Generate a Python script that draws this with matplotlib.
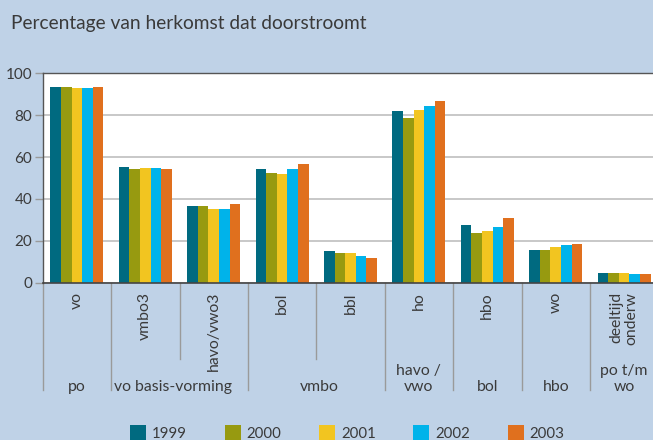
import matplotlib
matplotlib.use("Agg")
import matplotlib.pyplot as plt
import numpy as np

plt.rcParams['font.family'] = ['Lato', 'DejaVu Sans']

# ---- data ----
categories = ["vo", "vmbo3", "havo/vwo3", "bol", "bbl", "ho", "hbo", "wo", "deeltijd\nonderw"]
years = ["1999", "2000", "2001", "2002", "2003"]
v1999 = [93.5, 55.3, 36.8, 54.3, 15.1, 82.0, 27.5, 15.6, 4.6]
v2000 = [93.5, 54.3, 36.8, 52.4, 14.2, 78.7, 23.7, 15.6, 4.6]
v2001 = [92.8, 54.8, 35.2, 51.9, 14.2, 82.5, 24.7, 17.0, 4.6]
v2002 = [92.8, 54.8, 35.2, 54.3, 12.7, 84.4, 26.6, 18.0, 4.1]
v2003 = [93.5, 54.3, 37.6, 56.7, 11.8, 86.8, 30.9, 18.5, 4.1]
groups = ["po", "vo basis-vorming", "vmbo", "havo /\nvwo", "bol", "hbo", "po t/m\nwo"]
group_spans = [(0, 0), (1, 2), (3, 4), (5, 5), (6, 6), (7, 7), (8, 8)]
yticks = [0, 20, 40, 60, 80, 100]
title = "Percentage van herkomst dat doorstroomt"

series = [v1999, v2000, v2001, v2002, v2003]
colors = ["#006A80", "#979A10", "#F2C520", "#00B3EA", "#E0701E"]

BG = "#BFD2E7"
TXT = "#3A3A3A"
W, H = 653, 440
fig = plt.figure(figsize=(W / 100, H / 100), dpi=100, facecolor=BG)

ax_left, ax_top, ax_bottom = 42.7, 73.3, 282.7
cat_w = 68.4
ax = fig.add_axes([ax_left / W, 1 - ax_bottom / H, 9 * cat_w / W, (ax_bottom - ax_top) / H])
ax.set_facecolor("white")

x = np.arange(len(categories))
bw = 0.155
for i, (vals, col, yr) in enumerate(zip(series, colors, years)):
    ax.bar(x + (i - 2) * bw, vals, width=bw, color=col, label=yr, zorder=3, linewidth=0)

ax.set_xlim(-0.5, len(categories) - 0.5)
ax.set_ylim(0, 100)
ax.set_yticks(yticks)
ax.set_yticklabels([str(t) for t in yticks], fontsize=11, color=TXT)
ax.yaxis.grid(True, color="#C4C4C4", linewidth=1.3, zorder=1)
ax.tick_params(axis='y', length=6, width=1, color="#9A9A9A", pad=1.5)
ax.set_xticks([])
for s in ["top", "left"]:
    ax.spines[s].set_color("#555555")
    ax.spines[s].set_linewidth(1.0)
ax.spines["bottom"].set_color("#444444")
ax.spines["bottom"].set_linewidth(1.2)
ax.spines["bottom"].set_zorder(5)
ax.spines["right"].set_visible(False)

trans = ax.get_xaxis_transform()
px = 1.0 / (ax_bottom - ax_top)  # axes fraction per pixel

# separators below the axis
full_lines = [-0.5, 0.5, 2.5, 4.5, 5.5, 6.5, 7.5]
short_lines = [1.5, 3.5]
for xb in full_lines:
    ax.plot([xb, xb], [0, -(390 - ax_bottom) * px], transform=trans, color="#9A9A9A",
            linewidth=1.0, clip_on=False)
for xb in short_lines:
    ax.plot([xb, xb], [0, -(359 - ax_bottom) * px], transform=trans, color="#9A9A9A",
            linewidth=1.0, clip_on=False)

# category labels (rotated)
for xi, lab in zip(x, categories):
    ax.text(xi, -(292 - ax_bottom) * px, lab, rotation=90, ha='center', va='top',
            transform=trans, fontsize=11.3, color=TXT, multialignment='right',
            linespacing=1.05)

# group labels
gx_offsets = [0, -0.09, 0.05, 0, 0, 0, 0]
for (a, b), lab, off in zip(group_spans, groups, gx_offsets):
    ax.text((a + b) / 2 + off, -(394 - ax_bottom) * px, lab, ha='center', va='bottom',
            transform=trans, fontsize=11.3, color=TXT, linespacing=1.15)

# title
fig.text(11 / W, 1 - 28.5 / H, title, ha='left', va='baseline', fontsize=13.8, color=TXT)

# legend
fs = 10.8
fig.legend(loc='center left', bbox_to_anchor=(130 / W, 1 - 433 / H), ncol=5, frameon=False,
           fontsize=fs, handlelength=1.07, handleheight=1.07, handletextpad=0.4,
           columnspacing=2.5, borderpad=0, borderaxespad=0, labelcolor=TXT)

fig.savefig("out.png", dpi=100, facecolor=BG)
